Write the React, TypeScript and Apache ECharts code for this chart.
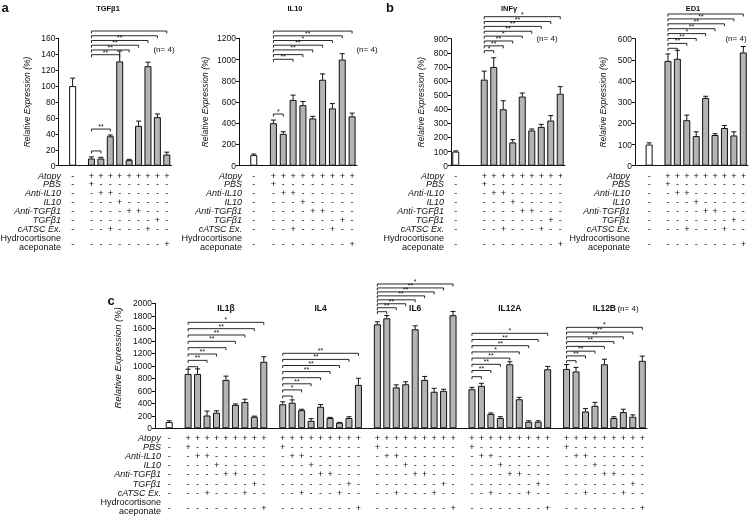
import React, { useEffect, useRef } from 'react';
import * as echarts from 'echarts';

const FONT = '"Liberation Sans", Arial, Helvetica, sans-serif';
const INK = '#111';
const BAR_FILL = '#b4b4b4';
const yAxisName = 'Relative Expression (%)';

// ---- treatment table (9 treated columns) ----
const conditionNames = ['Atopy', 'PBS', 'Anti-IL10', 'IL10', 'Anti-TGFβ1', 'TGFβ1', 'cATSC Ex.'];
const hydroNameLines = ['Hydrocortisone', 'aceponate'];
const atopyRow = [1, 1, 1, 1, 1, 1, 1, 1, 1];
const pbsRow = [1, 0, 0, 0, 0, 0, 0, 0, 0];
const antiIL10Row = [0, 1, 1, 0, 0, 0, 0, 0, 0];
const il10Row = [0, 0, 0, 1, 0, 0, 0, 0, 0];
const antiTGFRow = [0, 0, 0, 0, 1, 1, 0, 0, 0];
const tgfRow = [0, 0, 0, 0, 0, 0, 0, 1, 0];
const catscRow = [0, 0, 1, 0, 0, 0, 1, 0, 0];
const hydroRow = [0, 0, 0, 0, 0, 0, 0, 0, 1];
const conditionRows = [atopyRow, pbsRow, antiIL10Row, il10Row, antiTGFRow, tgfRow, catscRow, hydroRow];

// ---- values ----
const controlValue = 100;

const tgfb1Values = [9, 9, 37, 131, 7, 50, 125, 61, 14];
const tgfb1Errors = [2, 1.5, 1.5, 13, 1, 6, 5, 4, 3];
const tgfb1ControlError = 10;

const il10Values = [400, 300, 620, 570, 445, 810, 540, 1000, 465];
const il10Errors = [30, 20, 45, 35, 20, 55, 45, 55, 30];
const il10ControlError = 10;

const infgValues = [610, 700, 400, 165, 490, 250, 275, 320, 510];
const infgErrors = [60, 65, 60, 20, 25, 10, 18, 35, 50];
const infgControlError = 5;

const ed1Values = [495, 505, 215, 140, 320, 145, 178, 143, 535];
const ed1Errors = [33, 40, 24, 20, 8, 6, 12, 17, 28];
const ed1ControlError = 8;

const il1bValues = [870, 870, 205, 250, 775, 375, 420, 185, 1065];
const il1bErrors = [75, 80, 70, 30, 60, 15, 45, 10, 80];
const il4Values = [385, 410, 290, 120, 345, 165, 90, 165, 695];
const il4Errors = [40, 45, 15, 35, 35, 10, 5, 20, 105];
const il6Values = [1665, 1760, 655, 705, 1585, 775, 585, 600, 1810];
const il6Errors = [40, 45, 40, 40, 55, 55, 55, 25, 60];
const il12aValues = [625, 680, 230, 165, 1025, 465, 105, 105, 945];
const il12aErrors = [30, 40, 15, 20, 40, 30, 15, 15, 45];
const il12bValues = [950, 910, 270, 360, 1025, 165, 260, 185, 1080];
const il12bErrors = [70, 65, 45, 55, 80, 20, 45, 30, 75];
const panelCControlError = 20;

// ---- significance brackets (from treated column 1 to target column) ----
const tgfb1StackTargets = [4, 5, 6, 7, 8, 9];
const tgfb1StackLabels = ['**', '**', '**', '**', '', ''];
const tgfb1LowTargets = [2, 3];
const tgfb1LowLabels = ['', '**'];

const il10StackTargets = [3, 4, 5, 6, 7, 8, 9];
const il10StackLabels = ['**', '', '**', '**', '*', '**', ''];
const il10LowTargets = [2];
const il10LowLabels = ['*'];

const infgStackTargets = [2, 3, 4, 5, 6, 7, 8, 9];
const infgStackLabels = ['*', '**', '**', '*', '**', '**', '**', '*'];
const ed1StackTargets = [2, 3, 4, 5, 6, 7, 8, 9];
const ed1StackLabels = ['', '**', '**', '*', '**', '**', '**', ''];

const cStackTargets = [2, 3, 4, 5, 6, 7, 8, 9];
const il1bStackLabels = ['', '**', '**', '', '**', '**', '**', '*'];
const il4StackLabels = ['', '*', '**', '', '**', '**', '**', '**'];
const il6StackLabels = ['', '**', '**', '', '**', '**', '**', '*'];
const il12aStackLabels = ['', '**', '**', '**', '*', '**', '**', '*'];
const il12bStackLabels = ['', '**', '**', '', '**', '**', '**', '*'];

// ---- layout ----
const TREATED_START = 3;
const AB_SLOTS = 12;
const abRowYs = [175.5, 184.4, 193.3, 202.2, 211.1, 220, 228.9];
const abHydroYs = [237.8, 246.7];
const abSignY = 244;
const cRowYs = [437.5, 446.7, 455.9, 465.1, 474.3, 483.5, 492.7];
const cHydroYs = [501.9, 511.1];
const cSignY = 508;

const abPanels = [
  {
    title: 'TGFβ1', values: tgfb1Values, errors: tgfb1Errors, ctrlErr: tgfb1ControlError, yMax: 160, yInterval: 20,
    stackTargets: tgfb1StackTargets, stackLabels: tgfb1StackLabels, lowTargets: tgfb1LowTargets, lowLabels: tgfb1LowLabels,
    L: { left: 58.5, top: 38.3, width: 113, height: 127.4, ctrlSlot: 1, stackBase: 54.7, stackStep: 4.74, titleX: 108, nX: 164, nY: 49, labelRight: 61, nameGap: 27 },
  },
  {
    title: 'IL10', values: il10Values, errors: il10Errors, ctrlErr: il10ControlError, yMax: 1200, yInterval: 200,
    stackTargets: il10StackTargets, stackLabels: il10StackLabels, lowTargets: il10LowTargets, lowLabels: il10LowLabels,
    L: { left: 239, top: 38.3, width: 118, height: 127.4, ctrlSlot: 1, stackBase: 59.3, stackStep: 4.7, titleX: 295, nX: 367, nY: 49, labelRight: 242, nameGap: 30 },
  },
  {
    title: 'INFγ', values: infgValues, errors: infgErrors, ctrlErr: infgControlError, yMax: 900, yInterval: 100,
    stackTargets: infgStackTargets, stackLabels: infgStackLabels, lowTargets: [], lowLabels: [],
    L: { left: 451, top: 38.7, width: 114, height: 127, ctrlSlot: 0, stackBase: 50.7, stackStep: 4.86, titleX: 509, nX: 547, nY: 38.3, labelRight: 444, nameGap: 26 },
  },
  {
    title: 'ED1', values: ed1Values, errors: ed1Errors, ctrlErr: ed1ControlError, yMax: 600, yInterval: 100,
    stackTargets: ed1StackTargets, stackLabels: ed1StackLabels, lowTargets: [], lowLabels: [],
    L: { left: 635, top: 38.7, width: 113, height: 127, ctrlSlot: 1, stackBase: 48.3, stackStep: 4.9, titleX: 693, nX: 736, nY: 38.3, labelRight: 630, nameGap: 28 },
  },
];

const cGenes = [
  { title: 'IL1β', values: il1bValues, errors: il1bErrors, labels: il1bStackLabels, stackBase: 366.7, stackStep: 6.34 },
  { title: 'IL4', values: il4Values, errors: il4Errors, labels: il4StackLabels, stackBase: 396, stackStep: 6.1 },
  { title: 'IL6', values: il6Values, errors: il6Errors, labels: il6StackLabels, stackBase: 311.7, stackStep: 3.96 },
  { title: 'IL12A', values: il12aValues, errors: il12aErrors, labels: il12aStackLabels, stackBase: 376.7, stackStep: 6.2 },
  { title: 'IL12B', values: il12bValues, errors: il12bErrors, labels: il12bStackLabels, stackBase: 360.7, stackStep: 4.77 },
];
const C_LAYOUT = { left: 155, top: 303.3, width: 492, height: 125, ctrlSlot: 1, groupStride: 10, slots: 52, titleY: 308, nX: 628, nY: 308, labelRight: 161, nameGap: 29 };

const slotNames = (n: number) => Array.from({ length: n }, (_, i) => 'slot' + i);

// style for graphic-component texts
function gStyle(extra: any) {
  const s: any = { fontFamily: FONT, fill: INK, ...extra };
  if (s.align) s.textAlign = s.align;
  if (s.verticalAlign) s.textVerticalAlign = s.verticalAlign;
  return s;
}
// style for custom-series texts
function cStyle(extra: any) {
  return { fontFamily: FONT, fill: INK, stroke: 'none', ...extra };
}

function errorSeries(idx: number, items: number[][]) {
  return {
    type: 'custom', xAxisIndex: idx, yAxisIndex: idx, clip: false, silent: true, z: 3,
    encode: { x: 0, y: 1 },
    itemStyle: { color: INK },
    data: items,
    renderItem: (params: any, api: any) => {
      const s = api.value(0), v = api.value(1), e = api.value(2);
      const p0 = api.coord([s, v]);
      const p1 = api.coord([s, v + e]);
      return {
        type: 'group',
        children: [
          { type: 'line', shape: { x1: p0[0], y1: p0[1], x2: p1[0], y2: p1[1] }, style: { stroke: INK, lineWidth: 1 } },
          { type: 'line', shape: { x1: p1[0] - 2.5, y1: p1[1], x2: p1[0] + 2.5, y2: p1[1] }, style: { stroke: INK, lineWidth: 1 } },
        ],
      };
    },
  };
}

function bracketSeries(idx: number, list: any[]) {
  return {
    type: 'custom', xAxisIndex: idx, yAxisIndex: idx, clip: false, silent: true, z: 4,
    encode: { x: 0, y: 1 },
    itemStyle: { color: INK },
    data: list.map((b) => [b.from, 0]),
    renderItem: (params: any, api: any) => {
      const b = list[params.dataIndex];
      const x1 = api.coord([b.from, 0])[0];
      const x2 = api.coord([b.to, 0])[0];
      const y = b.above != null ? api.coord([b.from, b.above])[1] - b.gap : b.y;
      const children: any[] = [
        { type: 'polyline', shape: { points: [[x1, y + 2.5], [x1, y], [x2, y], [x2, y + 2.5]] }, style: { stroke: INK, lineWidth: 0.9, fill: 'none' } },
      ];
      if (b.label) {
        children.push({ type: 'text', x: (x1 + x2) / 2, y: y + 1, style: cStyle({ text: b.label, fontSize: 7, align: 'center', verticalAlign: 'bottom' }) });
      }
      return { type: 'group', children };
    },
  };
}

function tableSeries(idx: number, cols: any[], rowYs: number[], signY: number) {
  return {
    type: 'custom', xAxisIndex: idx, yAxisIndex: idx, clip: false, silent: true, z: 4,
    encode: { x: 0, y: 1 },
    itemStyle: { color: INK },
    data: cols.map((c) => [c.slot, 0]),
    renderItem: (params: any, api: any) => {
      const c = cols[params.dataIndex];
      const x = api.coord([c.slot, 0])[0];
      const children = conditionRows.map((row, r) => {
        const on = c.col >= 0 && row[c.col] === 1;
        return {
          type: 'text', x, y: r < rowYs.length ? rowYs[r] : signY,
          style: cStyle({ text: on ? '+' : '-', fontSize: 9, align: 'center', verticalAlign: 'middle' }),
        };
      });
      return { type: 'group', children };
    },
  };
}

function rowLabelGraphics(xRight: number, rowYs: number[], hydroYs: number[]) {
  const out: any[] = conditionNames.map((name, r) => ({
    type: 'text', silent: true, x: xRight, y: rowYs[r],
    style: gStyle({ text: name, fontSize: 9, fontStyle: 'italic', align: 'right', verticalAlign: 'middle' }),
  }));
  hydroNameLines.forEach((t, i) => out.push({
    type: 'text', silent: true, x: xRight, y: hydroYs[i],
    style: gStyle({ text: t, fontSize: 9, align: 'right', verticalAlign: 'middle' }),
  }));
  return out;
}

function label(text: string, x: number, y: number, size: number, weight: string, align = 'center') {
  return { type: 'text', silent: true, x, y, style: gStyle({ text, fontSize: size, fontWeight: weight, align, verticalAlign: 'middle' }) };
}

function buildOption() {
  const grid: any[] = [], xAxis: any[] = [], yAxis: any[] = [], series: any[] = [], graphic: any[] = [];

  const addCartesian = (L: any, nSlots: number, yMax: number, yInterval: number, nameSize: number, namePad: number[]) => {
    const idx = grid.length;
    grid.push({ left: L.left, top: L.top, width: L.width, height: L.height, containLabel: false });
    xAxis.push({
      gridIndex: idx, type: 'category', data: slotNames(nSlots),
      axisLine: { lineStyle: { color: INK, width: 1 } }, axisTick: { show: false }, axisLabel: { show: false }, splitLine: { show: false },
    });
    yAxis.push({
      gridIndex: idx, type: 'value', min: 0, max: yMax, interval: yInterval,
      axisLine: { show: true, lineStyle: { color: INK, width: 1 } },
      axisTick: { show: true, length: 3, lineStyle: { color: INK } },
      axisLabel: { fontSize: 8.5, color: INK, fontFamily: FONT, margin: 3, formatter: (v: number) => String(v) },
      splitLine: { show: false },
      name: yAxisName, nameLocation: 'middle', nameGap: L.nameGap,
      nameTextStyle: { fontStyle: 'italic', fontSize: nameSize, color: INK, fontFamily: FONT, padding: namePad },
    });
    return idx;
  };

  const barSeries = (idx: number, data: any[]) => ({
    type: 'bar', xAxisIndex: idx, yAxisIndex: idx, data, barWidth: 7, silent: true, z: 2,
    itemStyle: { color: BAR_FILL, borderColor: INK, borderWidth: 1 },
  });

  // panels a and b
  abPanels.forEach((p) => {
    const L = p.L;
    const idx = addCartesian(L, AB_SLOTS, p.yMax, p.yInterval, 8.5, [0, 0, 0, 0]);
    const data: any[] = new Array(AB_SLOTS).fill('-');
    data[L.ctrlSlot] = { value: controlValue, itemStyle: { color: '#fff' } };
    p.values.forEach((v, k) => { data[TREATED_START + k] = v; });
    series.push(barSeries(idx, data));

    const errs = [[L.ctrlSlot, controlValue, p.ctrlErr]].concat(p.values.map((v, k) => [TREATED_START + k, v, p.errors[k]]));
    series.push(errorSeries(idx, errs));

    const list: any[] = [];
    p.stackTargets.forEach((t, i) => list.push({ from: TREATED_START, to: TREATED_START + t - 1, label: p.stackLabels[i], y: L.stackBase - i * L.stackStep }));
    p.lowTargets.forEach((t, i) => {
      let top = 0;
      for (let k = 0; k < t; k++) top = Math.max(top, p.values[k] + p.errors[k]);
      list.push({ from: TREATED_START, to: TREATED_START + t - 1, label: p.lowLabels[i], above: top, gap: 6 });
    });
    series.push(bracketSeries(idx, list));

    const cols = [{ slot: L.ctrlSlot, col: -1 }].concat(p.values.map((_, k) => ({ slot: TREATED_START + k, col: k })));
    series.push(tableSeries(idx, cols, abRowYs, abSignY));
    graphic.push(...rowLabelGraphics(L.labelRight, abRowYs, abHydroYs));
    graphic.push(label(p.title, L.titleX, 8, 7.5, 'bold'));
    graphic.push(label('(n= 4)', L.nX, L.nY, 8, 'normal'));
  });

  // panel c
  {
    const L = C_LAYOUT;
    const idx = addCartesian(L, L.slots, 2000, 200, 9.5, [0, 0, 0, 16]);
    const data: any[] = new Array(L.slots).fill('-');
    data[L.ctrlSlot] = { value: controlValue, itemStyle: { color: '#fff' } };
    const errs: number[][] = [[L.ctrlSlot, controlValue, panelCControlError]];
    const cols: any[] = [{ slot: L.ctrlSlot, col: -1 }];
    cGenes.forEach((g, gi) => {
      const start = TREATED_START + gi * L.groupStride;
      g.values.forEach((v, k) => {
        data[start + k] = v;
        errs.push([start + k, v, g.errors[k]]);
        cols.push({ slot: start + k, col: k });
      });
      const list = cStackTargets.map((t, i) => ({ from: start, to: start + t - 1, label: g.labels[i], y: g.stackBase - i * g.stackStep }));
      series.push(bracketSeries(idx, list));
      const xs = grid[idx].left + ((start + 4 + 0.5) / L.slots) * L.width;
      graphic.push(label(g.title, xs, L.titleY, 8.5, 'bold'));
    });
    series.push(barSeries(idx, data));
    series.push(errorSeries(idx, errs));
    series.push(tableSeries(idx, cols, cRowYs, cSignY));
    graphic.push(...rowLabelGraphics(L.labelRight, cRowYs, cHydroYs));
    graphic.push(label('(n= 4)', L.nX, L.nY, 8, 'normal'));
  }

  graphic.push(label('a', 5, 7, 13, 'bold'));
  graphic.push(label('b', 390, 7, 13, 'bold'));
  graphic.push(label('c', 111, 300, 13, 'bold'));

  return { animation: false, backgroundColor: '#fff', color: [INK], grid, xAxis, yAxis, series, graphic };
}

export default function App() {
  const ref = useRef<HTMLDivElement>(null);
  useEffect(() => {
    const chart = echarts.init(ref.current as HTMLDivElement, null, { renderer: 'svg' });
    chart.setOption(buildOption() as any);
    return () => chart.dispose();
  }, []);
  return (
    <div
      ref={ref}
      style={{ position: 'fixed', left: 0, top: 0, width: 749, height: 522, background: '#fff', filter: 'grayscale(1)' }}
    />
  );
}
